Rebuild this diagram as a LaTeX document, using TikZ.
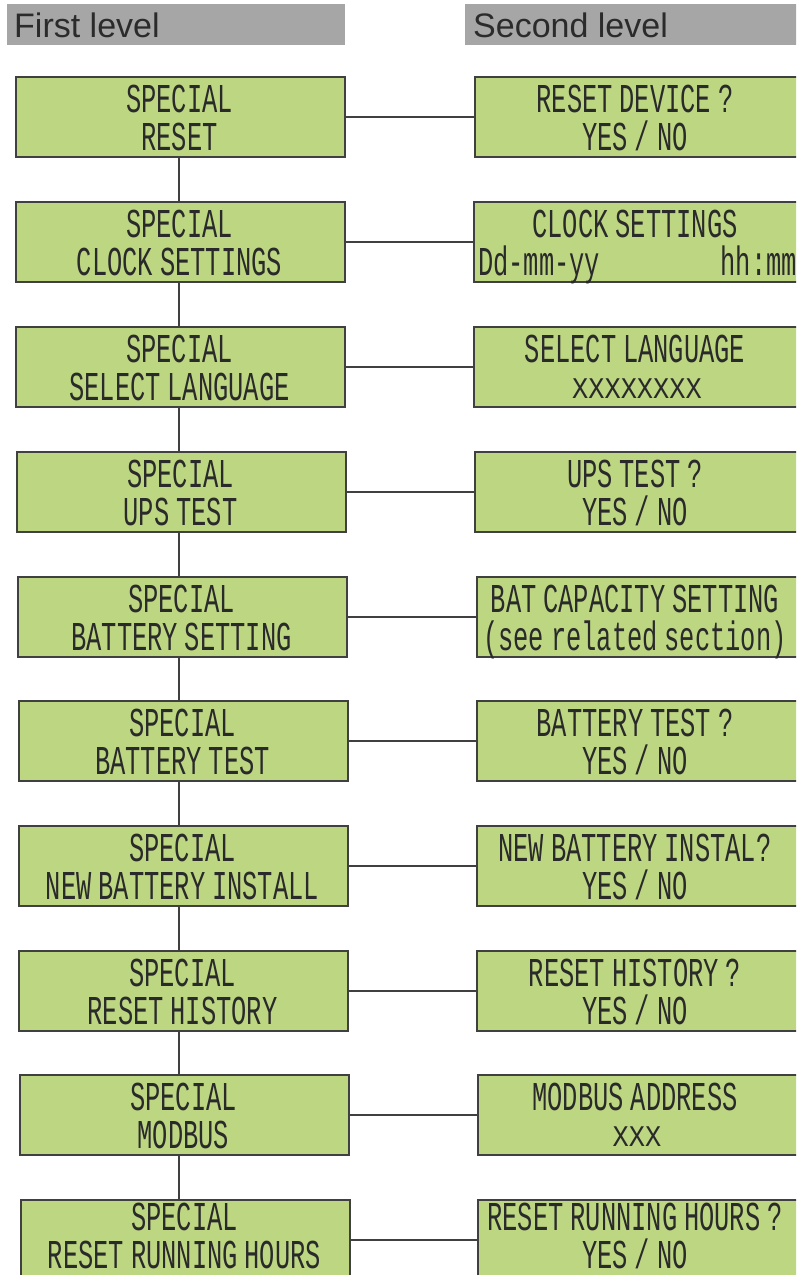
\documentclass[tikz,border=0pt]{standalone}
\usepackage{fontspec}
\setmainfont{Liberation Sans}
\newfontfamily\lcdfont[FakeStretch=0.62,WordSpace=0.45]{Liberation Mono}
\newfontfamily\lcdwide[FakeStretch=0.9]{Liberation Mono}
\definecolor{lcdgreen}{HTML}{BDD682}
\definecolor{boxline}{HTML}{404040}
\definecolor{lcdink}{HTML}{2A2A2A}
\definecolor{hdrgray}{HTML}{A6A6A6}
\definecolor{hdrink}{HTML}{2B2B2B}
\newcommand\menurow[8]{%
  \node[lbox] (l#1) at (#3,#2) {};
  \node[rbox] (r#1) at (#4,#2) {};
  \node[lcdtxt] (la#1) at (#3+164.5,#2+#8-38) {SPECIAL};
  \node[lcdtxt] (lb#1) at (#3+164.5,#2+#8) {#5};
  \node[lcdtxt] (ra#1) at (635,#2+#8-38) {#6};
  \node[lcdtxt] (rb#1) at (635,#2+#8) {#7};
  \draw[conn] (l#1.east) -- (r#1.west);
}
\begin{document}
\begin{tikzpicture}[x=1pt,y=-1pt,
  lbox/.style={draw=boxline, line width=1.8pt, fill=lcdgreen, minimum width=329pt, minimum height=80pt, inner sep=0pt, anchor=north west},
  rbox/.style={lbox, minimum width=345pt},
  lcdtxt/.style={font=\lcdfont\fontsize{41}{41}\selectfont, text=lcdink, inner sep=0pt, anchor=base},
  lcdsmall/.style={font=\lcdwide\fontsize{30}{30}\selectfont, text=lcdink, inner sep=0pt, anchor=base},
  conn/.style={draw=boxline, line width=1.8pt},
  hdr/.style={fill=hdrgray, inner sep=0pt, anchor=north west, minimum height=41pt},
  hdrtxt/.style={font=\fontsize{34}{34}\selectfont, text=hdrink, inner sep=0pt, anchor=base west}]
\useasboundingbox (0,0) rectangle (796,1275);
\clip (0,0) rectangle (796,1275);
% headers
\node[hdr, minimum width=338pt] (h1) at (7,4) {};
\node[hdr, minimum width=340pt] (h2) at (465,4) {};
\node[hdrtxt] (h1t) at (14,37) {First level};
\node[hdrtxt] (h2t) at (473,37) {Second level};
% rows
\menurow{1}{76}{15}{474}{RESET}{RESET DEVICE ?}{YES / NO}{74}
\menurow{2}{201}{15}{473}{CLOCK SETTINGS}{CLOCK SETTINGS}{}{74}
\menurow{3}{326}{15}{473}{SELECT LANGUAGE}{SELECT LANGUAGE}{}{74}
\menurow{4}{451}{16}{474}{UPS TEST}{UPS TEST ?}{YES / NO}{74}
\menurow{5}{576}{17}{476}{BATTERY SETTING}{BAT CAPACITY SETTING}{(see related section)}{74}
\menurow{6}{700}{18}{476}{BATTERY TEST}{BATTERY TEST ?}{YES / NO}{74}
\menurow{7}{825}{18}{476}{NEW BATTERY INSTALL}{NEW BATTERY INSTAL?}{YES / NO}{74}
\menurow{8}{950}{18}{476}{RESET HISTORY}{RESET HISTORY ?}{YES / NO}{74}
\menurow{9}{1074}{19}{477}{MODBUS}{MODBUS ADDRESS}{}{74}
\menurow{10}{1199}{20}{477}{RESET RUNNING HOURS}{RESET RUNNING HOURS ?}{YES / NO}{69}
% special second lines
\node[lcdtxt, anchor=base west] (dd) at (478,275) {Dd-mm-yy};
\node[lcdtxt, anchor=base east] (hh) at (797,275) {hh:mm};
\node[lcdsmall] (xx8) at (637,398) {XXXXXXXX};
\node[lcdsmall] (xx3) at (637,1146) {XXX};
% vertical spine
\coordinate (vx) at (179,0);
\foreach \i/\j in {1/2,2/3,3/4,4/5,5/6,6/7,7/8,8/9,9/10}
  \draw[conn] (l\i.south -| vx) -- (l\j.north -| vx);
\end{tikzpicture}
\end{document}
